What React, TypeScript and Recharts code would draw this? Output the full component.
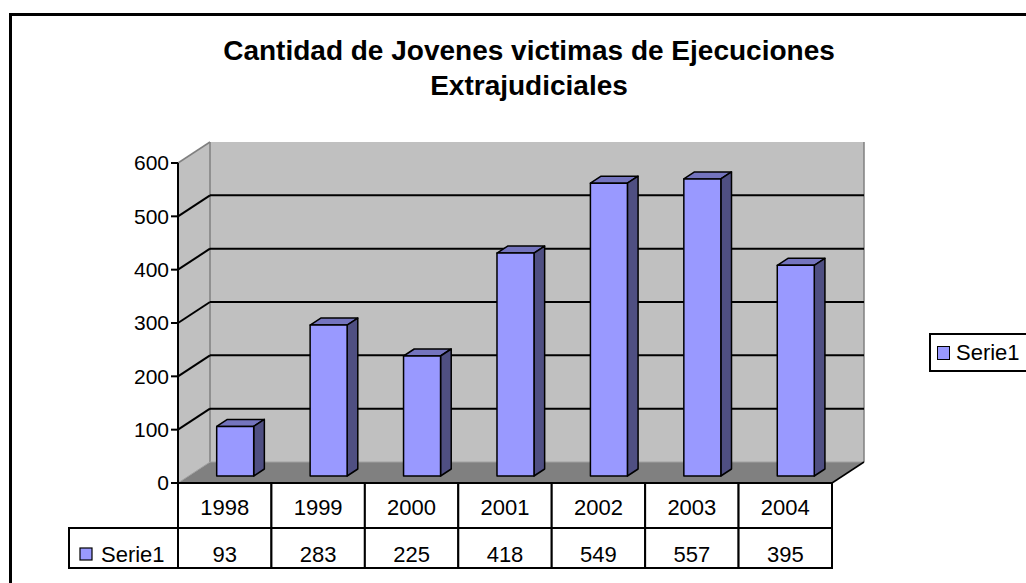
import React from 'react';
import { BarChart, Bar, XAxis, YAxis, CartesianGrid } from 'recharts';

// data
const years = ['1998', '1999', '2000', '2001', '2002', '2003', '2004'];
const victims = [93, 283, 225, 418, 549, 557, 395];
const yTicks = [0, 100, 200, 300, 400, 500, 600];
const seriesName = 'Serie1';
const titleLines = ['Cantidad de Jovenes victimas de Ejecuciones', 'Extrajudiciales'];

const data = years.map((year, i) => ({ year, value: victims[i] }));

const FONT = 'Arial, "Liberation Sans", sans-serif';
// fake 3D depth of the plot box (back wall offset)
const DEPTH_X = 32;
const DEPTH_Y = 21;
const LABEL_CELL = 109;
const ROW1 = 45;
const ROW2 = 40;

const FRONT = '#9999FF';
const TOP = '#7474BE';
const SIDE = '#4F4F82';

// walls + gridlines, drawn through the grid's line callback
const renderGridLine = (p: any) => {
  const { x1, x2, y1, index, y, height } = p;
  const top = y;
  const bottom = y + height;
  const isEdge = Math.abs(y1 - top) < 0.5 || Math.abs(y1 - bottom) < 0.5;
  const walls =
    index === 0 ? (
      <g>
        {/* back wall */}
        <rect x={x1 + DEPTH_X} y={top - DEPTH_Y} width={x2 - x1} height={height} fill="#C0C0C0" />
        {/* left wall */}
        <polygon
          points={`${x1},${top} ${x1 + DEPTH_X},${top - DEPTH_Y} ${x1 + DEPTH_X},${bottom - DEPTH_Y} ${x1},${bottom}`}
          fill="#C0C0C0"
        />
        {/* floor */}
        <polygon
          points={`${x1},${bottom} ${x1 + DEPTH_X},${bottom - DEPTH_Y} ${x2 + DEPTH_X},${bottom - DEPTH_Y} ${x2},${bottom}`}
          fill="#808080"
        />
        <line x1={x1} y1={top} x2={x1 + DEPTH_X} y2={top - DEPTH_Y} stroke="#808080" strokeWidth={1.5} />
        <line x1={x1 + DEPTH_X} y1={top - DEPTH_Y} x2={x1 + DEPTH_X} y2={bottom - DEPTH_Y} stroke="#808080" strokeWidth={1.5} />
        <line x1={x2 + DEPTH_X} y1={top - DEPTH_Y} x2={x2 + DEPTH_X} y2={bottom - DEPTH_Y} stroke="#808080" strokeWidth={1.5} />
        <line x1={x1 + DEPTH_X} y1={bottom - DEPTH_Y} x2={x2 + DEPTH_X} y2={bottom - DEPTH_Y} stroke="#A0A0A0" strokeWidth={1} />
        <line x1={x1} y1={bottom} x2={x1 + DEPTH_X} y2={bottom - DEPTH_Y} stroke="#A0A0A0" strokeWidth={1} />
        <line x1={x2} y1={bottom} x2={x2 + DEPTH_X} y2={bottom - DEPTH_Y} stroke="#000" strokeWidth={1.5} />
      </g>
    ) : null;
  return (
    <g key={`grid-${index}`}>
      {walls}
      {!isEdge && (
        <g stroke="#000" strokeWidth={2}>
          <line x1={x1} y1={y1} x2={x1 + DEPTH_X} y2={y1 - DEPTH_Y} />
          <line x1={x1 + DEPTH_X} y1={y1 - DEPTH_Y} x2={x2 + DEPTH_X} y2={y1 - DEPTH_Y} />
        </g>
      )}
    </g>
  );
};

// 3D column: front face sits a third of the way into the box
const Prism = (props: any) => {
  const { x, y, width, height } = props;
  if (!height || height <= 0) return null;
  const dx = DEPTH_X / 3;
  const dy = DEPTH_Y / 3;
  const fx = x + dx;
  const fy = y - dy;
  return (
    <g stroke="#000" strokeWidth={1.5} strokeLinejoin="round">
      <polygon points={`${fx},${fy} ${fx + dx},${fy - dy} ${fx + width + dx},${fy - dy} ${fx + width},${fy}`} fill={TOP} />
      <polygon
        points={`${fx + width},${fy} ${fx + width + dx},${fy - dy} ${fx + width + dx},${fy + height - dy} ${fx + width},${fy + height}`}
        fill={SIDE}
      />
      <rect x={fx} y={fy} width={width} height={height} fill={FRONT} />
    </g>
  );
};

// data table under the plot, one column per category
const TableTick = (props: any) => {
  const { x, y, payload, index, width, visibleTicksCount } = props;
  const band = width / visibleTicksCount;
  const left = x - band / 2;
  const val = victims[index];
  return (
    <g fontFamily={FONT} fontSize={22} fill="#000">
      <rect x={left} y={y} width={band} height={ROW1 + ROW2} fill="#fff" stroke="#000" strokeWidth={2} />
      <line x1={left} y1={y + ROW1} x2={left + band} y2={y + ROW1} stroke="#000" strokeWidth={2} />
      <text x={x} y={y + 32} textAnchor="middle" stroke="none">{payload.value}</text>
      <text x={x} y={y + ROW1 + 34} textAnchor="middle" stroke="none">{val}</text>
      {index === 0 && (
        <g>
          <rect x={left - LABEL_CELL} y={y + ROW1} width={LABEL_CELL} height={ROW2} fill="#fff" stroke="#000" strokeWidth={2} />
          <rect x={left - LABEL_CELL + 11} y={y + ROW1 + 20} width={12} height={12} fill={FRONT} stroke="#000" strokeWidth={1.2} />
          <text x={left - LABEL_CELL + 32} y={y + ROW1 + 34} stroke="none">{seriesName}</text>
        </g>
      )}
    </g>
  );
};

export default function App() {
  return (
    <div
      style={{
        position: 'fixed',
        left: 0,
        top: 0,
        width: 1026,
        height: 583,
        overflow: 'hidden',
        background: '#fff',
        fontFamily: FONT,
      }}
    >
      <div
        style={{
          position: 'absolute',
          left: 9,
          top: 13,
          width: 1100,
          height: 700,
          borderTop: '3px solid #000',
          borderLeft: '3px solid #000',
        }}
      />
      <div
        style={{
          position: 'absolute',
          left: 0,
          top: 33,
          width: 1058,
          textAlign: 'center',
          fontWeight: 'bold',
          fontSize: 28,
          lineHeight: '35px',
          color: '#000',
        }}
      >
        {titleLines.map((t) => (
          <div key={t}>{t}</div>
        ))}
      </div>
      <div style={{ position: 'absolute', left: 0, top: 0 }}>
        <BarChart
          width={1026}
          height={583}
          data={data}
          margin={{ top: 163, right: 194, bottom: 15, left: 118 }}
          barCategoryGap="30%"
        >
          <CartesianGrid vertical={false} horizontal={renderGridLine} />
          <XAxis
            dataKey="year"
            height={85}
            interval={0}
            axisLine={false}
            tickLine={false}
            tickSize={0}
            tickMargin={0}
            tick={<TableTick />}
          />
          <YAxis
            width={60}
            domain={[0, 600]}
            ticks={yTicks}
            interval={0}
            tickSize={7}
            tickMargin={2}
            axisLine={{ stroke: '#000', strokeWidth: 2 }}
            tickLine={{ stroke: '#000', strokeWidth: 2 }}
            tick={{ fill: '#000', fontSize: 21, fontFamily: FONT }}
          />
          <Bar dataKey="value" name={seriesName} shape={<Prism />} isAnimationActive={false} />
        </BarChart>
      </div>
      <div
        style={{
          position: 'absolute',
          left: 929,
          top: 333,
          width: 120,
          height: 35,
          border: '2px solid #000',
          background: '#fff',
          display: 'flex',
          alignItems: 'center',
          fontSize: 22,
          color: '#000',
        }}
      >
        <span
          style={{
            display: 'inline-block',
            width: 11,
            height: 12,
            background: FRONT,
            border: '1.5px solid #000',
            marginLeft: 6,
            marginRight: 6,
          }}
        />
        {seriesName}
      </div>
    </div>
  );
}
